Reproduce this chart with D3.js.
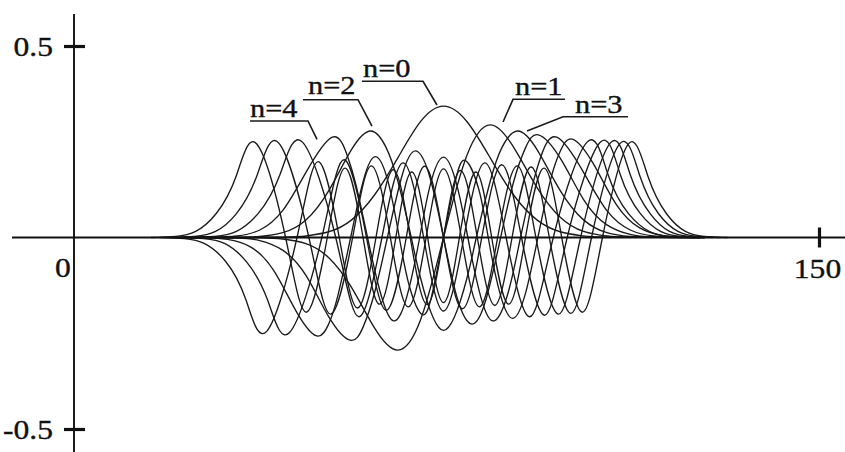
<!DOCTYPE html>
<html>
<head>
<meta charset="utf-8">
<script src="https://cdn.jsdelivr.net/npm/d3@7"></script>
<style>
  html, body { margin: 0; padding: 0; background: #fff; }
  svg { display: block; }
  text { font-family: "Liberation Serif", "Times New Roman", serif; fill: #111; stroke: #111; stroke-width: 0.35px; }
</style>
</head>
<body>
<div class="chart-container"></div>
<script>
// curves n = 0..10, [x, value] (peaks, zero crossings, tails)
const psi0 = [[21,0],[42.0,0.001],[46.7,0.004],[51.3,0.015],[55.9,0.046],[60.5,0.111],[65.2,0.208],[69.8,0.303],[74.4,0.343],[79.1,0.303],[83.8,0.208],[88.5,0.111],[93.2,0.046],[97.9,0.015],[102.6,0.004],[107.3,0.001],[127,0]];
const psi1 = [[24,0],[37.4,-0.001],[42.0,-0.004],[46.7,-0.016],[51.3,-0.053],[55.9,-0.131],[60.5,-0.236],[65.2,-0.294],[69.8,-0.214],[74.4,0],[79.1,0.214],[83.8,0.294],[88.5,0.236],[93.2,0.131],[97.9,0.053],[102.6,0.016],[107.3,0.004],[112.0,0.001],[125,0]];
const psi2 = [[22,0],[32.8,0.0004],[37.4,0.0025],[42.0,0.0125],[46.7,0.046],[51.3,0.1225],[55.9,0.230],[59.8,0.278],[62.8,0.236],[65.2,0.147],[67.9,0],[69.8,-0.107],[74.4,-0.2425],[79.1,-0.107],[81.0,0],[83.8,0.147],[86.2,0.236],[89.3,0.278],[93.2,0.230],[97.9,0.1225],[102.6,0.046],[107.3,0.0125],[112.0,0.0025],[116.7,0.0004],[126,0]];
const psi3 = [[23,0],[32.8,-0.0013],[37.4,-0.008],[42.0,-0.033],[46.7,-0.099],[51.3,-0.207],[55.6,-0.268],[58.2,-0.234],[60.5,-0.145],[63.1,0],[66.1,0.164],[68.8,0.226],[71.6,0.160],[74.4,0],[77.2,-0.160],[80.1,-0.226],[82.9,-0.164],[85.9,0],[88.5,0.145],[90.9,0.234],[93.5,0.268],[97.9,0.207],[102.6,0.099],[107.3,0.033],[112.0,0.008],[116.7,0.0013],[126,0]];
const psi4 = [[22,0],[28.2,0.0006],[32.8,0.0039],[37.4,0.0196],[42.0,0.070],[46.7,0.170],[52.0,0.262],[55.0,0.215],[56.8,0.136],[59.1,0],[61.5,-0.135],[64.2,-0.217],[67.0,-0.155],[69.6,0],[71.6,0.131],[74.4,0.210],[77.2,0.131],[79.3,0],[81.9,-0.155],[84.7,-0.217],[87.6,-0.135],[89.9,0],[92.3,0.136],[94.1,0.215],[97.2,0.262],[102.6,0.170],[107.3,0.070],[112.0,0.0196],[116.7,0.0039],[121.4,0.0006],[127,0]];
const psi5 = [[20,0],[26.3,-0.0007],[30.9,-0.005],[35.6,-0.025],[40.2,-0.086],[44.8,-0.194],[48.9,-0.257],[51.3,-0.225],[53.1,-0.153],[55.7,0],[58.2,0.146],[60.7,0.211],[63.3,0.1425],[65.5,0],[67.5,-0.126],[70.1,-0.201],[72.1,-0.148],[74.4,0],[76.8,0.148],[78.8,0.201],[81.5,0.126],[83.4,0],[85.7,-0.1425],[88.3,-0.211],[90.9,-0.146],[93.4,0],[96.0,0.153],[97.9,0.225],[100.3,0.257],[104.5,0.194],[109.2,0.086],[113.9,0.025],[118.6,0.005],[123.3,0.0007],[127,0]];
const psi6 = [[21.7,0],[28.3,0.003],[32.7,0.016],[37.1,0.063],[41.5,0.165],[46.0,0.249],[52.7,0],[57.4,-0.207],[62.0,0],[66.3,0.195],[70.4,0],[74.4,-0.192],[78.5,0],[82.7,0.195],[87.0,0],[91.7,-0.207],[96.5,0],[103.3,0.249],[107.5,0.165],[111.6,0.063],[115.8,0.016],[119.9,0.003],[126,0]];
const psi7 = [[20.9,0],[26.1,-0.003],[30.4,-0.016],[34.7,-0.063],[39.0,-0.164],[43.4,-0.248],[49.9,0],[54.4,0.203],[58.9,0],[62.9,-0.190],[66.9,0],[70.6,0.186],[74.4,0],[78.2,-0.186],[82.1,0],[86.1,0.190],[90.1,0],[94.7,-0.203],[99.3,0],[105.9,0.248],[110.0,0.164],[114.0,0.063],[118.1,0.016],[122.1,0.003],[127,0]];
const psi8 = [[19.2,0],[24.3,0.003],[28.5,0.016],[32.7,0.0625],[36.9,0.164],[41.2,0.247],[47.3,0],[51.7,-0.200],[56.1,0],[59.9,0.187],[63.7,0],[67.3,-0.181],[70.9,0],[74.4,0.179],[78.0,0],[81.6,-0.181],[85.3,0],[89.2,0.187],[93.0,0],[97.5,-0.200],[102.0,0],[108.0,0.247],[112.0,0.164],[116.0,0.0625],[119.9,0.016],[123.9,0.003],[128.7,0]];
const psi9 = [[17.2,0],[22.2,-0.003],[26.3,-0.016],[30.5,-0.062],[34.6,-0.162],[38.8,-0.245],[44.9,0],[49.2,0.198],[53.4,0],[57.1,-0.184],[60.8,0],[64.3,0.177],[67.7,0],[71.1,-0.175],[74.4,0],[77.8,0.175],[81.2,0],[84.7,-0.177],[88.2,0],[92.0,0.184],[95.7,0],[100.0,-0.198],[104.2,0],[109.9,0.245],[113.9,0.162],[117.7,0.062],[121.6,0.016],[125.5,0.003],[130.2,0]];
const psi10 = [[15.5,0],[20.5,0.003],[24.5,0.016],[28.6,0.062],[32.7,0.162],[36.8,0.244],[42.6,0],[46.8,-0.195],[51.0,0],[54.6,0.181],[58.2,0],[61.5,-0.174],[64.8,0],[68.0,0.171],[71.2,0],[74.4,-0.170],[77.6,0],[80.9,0.171],[84.1,0],[87.5,-0.174],[90.9,0],[94.6,0.181],[98.2,0],[102.3,-0.195],[106.4,0],[111.6,0.244],[115.5,0.162],[119.3,0.062],[123.1,0.016],[126.9,0.003],[131.6,0]];
const curves = [psi0, psi1, psi2, psi3, psi4, psi5, psi6, psi7, psi8, psi9, psi10];

// axes
const xTicks = [150];
const xTickLabels = ['150'];
const yTicks = [0.5, -0.5];
const yTickLabels = ['0.5', '-0.5'];
const originLabel = '0';

// annotations (text, where it sits, leader line) in data units
const labelTexts = ['n=0', 'n=2', 'n=4', 'n=1', 'n=3'];
const labelAt = [[58.19, 0.4183], [47.11, 0.3755], [35.44, 0.3154], [88.79, 0.3721], [100.87, 0.3258]];
const leaders = [
    [[57.99, 0.4078], [70.27, 0.4078], [73.09, 0.346]],
    [[46.11, 0.3598], [57.18, 0.3598], [60.0, 0.2911]],
    [[35.44, 0.3042], [47.11, 0.3042], [48.93, 0.2564]],
    [[86.38, 0.3016], [88.39, 0.3608], [98.86, 0.3608]],
    [[91.21, 0.2781], [98.46, 0.3154], [111.54, 0.3154]]
];

const svg_width = 845;
const svg_height = 452;
const stretch = 1.17;   // the scanned lettering is wider than the font

const svg = d3.select('.chart-container')
              .append('svg')
              .attr('width', svg_width)
              .attr('height', svg_height);

const x_scale = d3.scaleLinear().domain([0, 150]).range([74, 819]);
const y_scale = d3.scaleLinear().domain([-0.5, 0.5]).range([429, 46]);

// curves
const line = d3.line()
               .x(d => x_scale(d[0]))
               .y(d => y_scale(d[1]))
               .curve(d3.curveNatural);

svg.append('g')
   .attr('class', 'curves')
   .selectAll('path')
   .data(curves)
   .join('path')
   .attr('d', line)
   .style('fill', 'none')
   .style('stroke', '#1a1a1a')
   .style('stroke-width', 1.35);

// axis lines, longer than the scale ranges
svg.append('line')
   .attr('x1', 12).attr('x2', svg_width)
   .attr('y1', y_scale(0)).attr('y2', y_scale(0))
   .style('stroke', '#111').style('stroke-width', 1.9);
svg.append('line')
   .attr('x1', x_scale(0)).attr('x2', x_scale(0))
   .attr('y1', 14).attr('y2', svg_height)
   .style('stroke', '#111').style('stroke-width', 1.9);

// y ticks cross the axis
const y_axis = d3.axisLeft(y_scale)
                 .tickValues(yTicks)
                 .tickFormat((d, i) => yTickLabels[i])
                 .tickSizeOuter(0);
const y_axis_draw = svg.append('g')
                       .attr('class', 'y axis')
                       .attr('transform', `translate(${x_scale(0)}, 0)`)
                       .call(y_axis);
y_axis_draw.select('.domain').remove();
y_axis_draw.selectAll('.tick line')
           .attr('x1', -10).attr('x2', 11)
           .style('stroke', '#111').style('stroke-width', 3.2);
y_axis_draw.selectAll('.tick text')
           .attr('x', null).attr('dy', null)
           .attr('transform', `translate(-21, 9) scale(${stretch}, 1)`)
           .attr('font-family', null)
           .attr('font-size', null)
           .style('font-size', '27px')
           .style('fill', '#111');

const x_axis = d3.axisBottom(x_scale)
                 .tickValues(xTicks)
                 .tickFormat((d, i) => xTickLabels[i])
                 .tickSizeOuter(0);
const x_axis_draw = svg.append('g')
                       .attr('class', 'x axis')
                       .attr('transform', `translate(0, ${y_scale(0)})`)
                       .call(x_axis);
x_axis_draw.select('.domain').remove();
x_axis_draw.selectAll('.tick line')
           .attr('y1', -10).attr('y2', 10)
           .style('stroke', '#111').style('stroke-width', 3.2);
x_axis_draw.selectAll('.tick text')
           .attr('y', null).attr('dy', null)
           .attr('transform', `translate(-2, 40) scale(${stretch}, 1)`)
           .attr('font-family', null)
           .attr('font-size', null)
           .style('font-size', '27px')
           .style('fill', '#111');

svg.append('text')
   .attr('transform', `translate(${x_scale(0) - 11}, ${y_scale(0) + 39}) scale(${stretch}, 1)`)
   .attr('text-anchor', 'middle')
   .style('font-size', '27px')
   .text(originLabel);

// n= labels with underline and leader
const leader = d3.line().x(d => x_scale(d[0])).y(d => y_scale(d[1]));
svg.append('g')
   .attr('class', 'leaders')
   .selectAll('path')
   .data(leaders)
   .join('path')
   .attr('d', leader)
   .style('fill', 'none')
   .style('stroke', '#1a1a1a')
   .style('stroke-width', 1.6);

svg.append('g')
   .attr('class', 'labels')
   .selectAll('text')
   .data(labelTexts)
   .join('text')
   .attr('transform', (d, i) => `translate(${x_scale(labelAt[i][0])}, ${y_scale(labelAt[i][1])}) scale(${stretch}, 1)`)
   .style('font-size', '26px')
   .text(d => d);
</script>
</body>
</html>
